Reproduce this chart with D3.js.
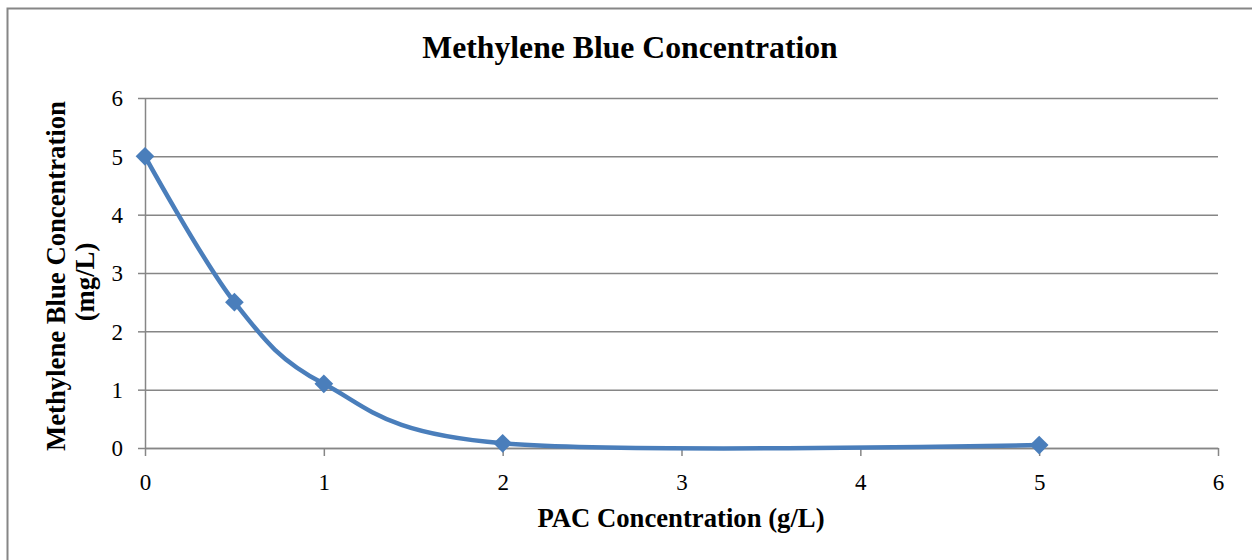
<!DOCTYPE html>
<html>
<head>
<meta charset="utf-8">
<script src="https://cdn.jsdelivr.net/npm/d3@7"></script>
<style>
  body { margin: 0; background: #fff; }
  text { font-family: "Liberation Serif", "Times New Roman", serif; fill: #000; }
</style>
</head>
<body>
<svg id="chart" width="1252" height="560"></svg>
<script>
// data
var pacConc = [0, 0.5, 1, 2, 5];          // g/L
var mbConc  = [5, 2.5, 1.1, 0.08, 0.05];  // mg/L
var xTicks  = [0, 1, 2, 3, 4, 5, 6];
var yTicks  = [0, 1, 2, 3, 4, 5, 6];

var svg = d3.select('#chart');

var plot = { left: 145, right: 1218, top: 98, bottom: 448 };
var gridColor = '#868686';
var lineColor = '#4a7ebb';

/**
 * Scales
 */
var x = d3.scaleLinear().domain([0, 6]).range([plot.left, plot.right]);
var y = d3.scaleLinear().domain([0, 6]).range([plot.bottom, plot.top]);

// outer chart frame (right / bottom edges are cut off in the original)
svg.append('rect')
  .attr('x', 7.5)
  .attr('y', 8.5)
  .attr('width', 1400)
  .attr('height', 800)
  .attr('fill', 'none')
  .attr('stroke', gridColor)
  .attr('stroke-width', 2);

// horizontal gridlines
svg.append('g')
  .attr('class', 'grid')
  .attr('transform', 'translate(' + plot.left + ',0)')
  .call(d3.axisLeft(y).tickValues(yTicks).tickSize(-(plot.right - plot.left)).tickFormat(''))
  .call(function (g) {
    g.select('.domain').remove();
    g.selectAll('line').attr('stroke', gridColor).attr('stroke-width', 1.5);
  });

// y axis
svg.append('g')
  .attr('transform', 'translate(' + plot.left + ',0)')
  .call(d3.axisLeft(y).tickValues(yTicks).tickFormat(d3.format('d'))
    .tickSize(7).tickSizeOuter(0).tickPadding(15))
  .call(function (g) {
    g.select('.domain').attr('stroke', gridColor).attr('stroke-width', 1.5);
    g.selectAll('line').attr('stroke', gridColor).attr('stroke-width', 1.5);
    g.selectAll('text')
      .style('font-family', '"Liberation Serif", serif')
      .style('font-size', '23px')
      .attr('dy', '0.34em');
  });

// x axis
svg.append('g')
  .attr('transform', 'translate(0,' + plot.bottom + ')')
  .call(d3.axisBottom(x).tickValues(xTicks).tickFormat(d3.format('d'))
    .tickSize(8).tickSizeOuter(0).tickPadding(18))
  .call(function (g) {
    g.select('.domain').attr('stroke', gridColor).attr('stroke-width', 1.5);
    g.selectAll('line').attr('stroke', gridColor).attr('stroke-width', 1.5);
    g.selectAll('text')
      .style('font-family', '"Liberation Serif", serif')
      .style('font-size', '23px')
      .attr('dy', '0.71em');
  });

/**
 * Series
 */
var points = pacConc.map(function (v, i) { return [v, mbConc[i]]; });

var drawLine = d3.line()
  .x(function (d) { return x(d[0]); })
  .y(function (d) { return y(d[1]); })
  .curve(d3.curveCardinal.tension(0));

svg.append('path')
  .datum(points)
  .attr('d', drawLine)
  .attr('fill', 'none')
  .attr('stroke', lineColor)
  .attr('stroke-width', 4.5)
  .attr('stroke-linejoin', 'round');

var diamond = d3.symbol().type(d3.symbolSquare).size(175);

svg.append('g')
  .selectAll('path')
  .data(points)
  .enter()
  .append('path')
  .attr('d', diamond)
  .attr('transform', function (d) {
    return 'translate(' + x(d[0]) + ',' + y(d[1]) + ') rotate(45)';
  })
  .attr('fill', lineColor);

/**
 * Titles
 */
svg.append('text')
  .attr('x', 630)
  .attr('y', 58)
  .attr('text-anchor', 'middle')
  .style('font-size', '31.7px')
  .style('font-weight', 'bold')
  .text('Methylene Blue Concentration');

svg.append('text')
  .attr('x', 681)
  .attr('y', 527)
  .attr('text-anchor', 'middle')
  .style('font-size', '26.7px')
  .style('font-weight', 'bold')
  .text('PAC Concentration (g/L)');

var yTitle = svg.append('text')
  .attr('transform', 'translate(65,276) rotate(-90)')
  .attr('text-anchor', 'middle')
  .style('font-size', '26.7px')
  .style('font-weight', 'bold');

yTitle.append('tspan')
  .attr('x', 0)
  .attr('y', 0)
  .text('Methylene Blue Concentration');

yTitle.append('tspan')
  .attr('x', -6)
  .attr('y', 29)
  .text('(mg/L)');
</script>
</body>
</html>
